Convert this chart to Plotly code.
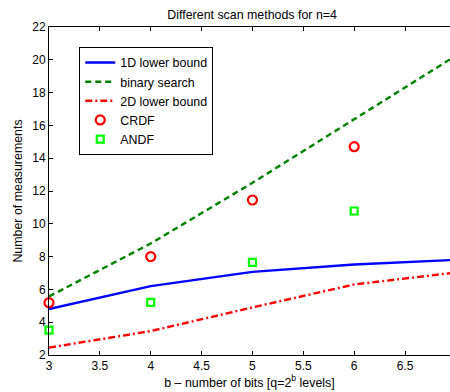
import plotly.graph_objects as go

bits = [3, 4, 5, 6, 7]
lower_1d = [4.8, 6.2, 7.07, 7.52, 7.8]
binary_search = [5.57, 8.8, 12.5, 16.37, 20.25]
lower_2d = [2.45, 3.46, 4.9, 6.3, 7.03]
crdf_bits = [3, 4, 5, 6]
crdf = [5.19, 8.0, 11.45, 14.7]
andf_bits = [3, 4, 5, 6]
andf = [3.52, 5.21, 7.65, 10.78]

x_ticks = [3, 3.5, 4, 4.5, 5, 5.5, 6, 6.5]
x_tick_labels = ["3", "3.5", "4", "4.5", "5", "5.5", "6", "6.5"]
y_ticks = list(range(2, 23, 2))

FONT = "Liberation Sans, Arial, Helvetica, sans-serif"

fig = go.Figure()
fig.add_trace(go.Scatter(x=bits, y=lower_1d, mode="lines", name="1D lower bound",
                         line=dict(color="#0000ff", width=2.4)))
fig.add_trace(go.Scatter(x=bits, y=binary_search, mode="lines", name="binary search",
                         line=dict(color="#008000", width=2.4, dash="6px,4px")))
fig.add_trace(go.Scatter(x=bits, y=lower_2d, mode="lines", name="2D lower bound",
                         line=dict(color="#ff0000", width=2.4, dash="7px,3px,2px,3px")))
fig.add_trace(go.Scatter(x=crdf_bits, y=crdf, mode="markers", name="CRDF", cliponaxis=False,
                         marker=dict(symbol="circle-open", size=9, color="#ff0000",
                                     line=dict(width=2.2, color="#ff0000"))))
fig.add_trace(go.Scatter(x=andf_bits, y=andf, mode="markers", name="ANDF", cliponaxis=False,
                         marker=dict(symbol="square-open", size=7, color="#00ff00",
                                     line=dict(width=2.2, color="#00ff00"))))

fig.update_layout(
    width=450, height=392,
    margin=dict(l=49, r=0, t=27, b=37),
    paper_bgcolor="white", plot_bgcolor="white",
    font=dict(family=FONT, size=12, color="black"),
    title=dict(text="Different scan methods for n=4", x=0.5066, xref="paper",
               xanchor="center", y=0.962, yref="container", yanchor="middle",
               font=dict(size=12.4, color="black")),
    showlegend=True,
    legend=dict(x=0.0755, y=0.939, xanchor="left", yanchor="top",
                bgcolor="white", bordercolor="black", borderwidth=1,
                font=dict(size=12.4, color="black"), tracegroupgap=0,
                itemwidth=30),
    xaxis=dict(range=[3, 6.942], tickvals=x_ticks, ticktext=x_tick_labels,
               ticks="inside", ticklen=4, tickcolor="black", tickwidth=1,
               showline=True, linecolor="black", linewidth=1, mirror="ticks",
               showgrid=False, zeroline=False,
               title=dict(text="b – number of bits [q=2<sup>b</sup> levels]",
                          font=dict(size=12.4), standoff=4)),
    yaxis=dict(range=[2, 22], tickvals=y_ticks,
               ticks="inside", ticklen=4, tickcolor="black", tickwidth=1,
               showline=True, linecolor="black", linewidth=1, mirror=False,
               showgrid=False, zeroline=False,
               title=dict(text="Number of measurements", font=dict(size=12.4), standoff=6)),
)

fig.write_html("out.html")
